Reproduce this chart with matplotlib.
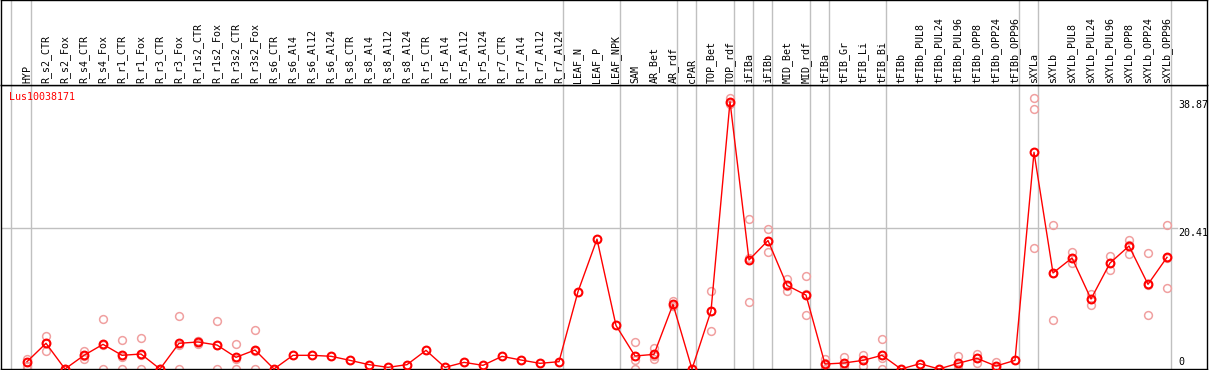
import numpy as np
import matplotlib
matplotlib.use("Agg")
import matplotlib.pyplot as plt
import matplotlib.transforms as mtransforms

# ------------------ DADOS ------------------
gene_id = "Lus10038171"

labels = ["HYP", "R_s2_CTR", "R_s2_Fox", "R_s4_CTR", "R_s4_Fox", "R_r1_CTR", "R_r1_Fox",
          "R_r3_CTR", "R_r3_Fox", "R_r1s2_CTR", "R_r1s2_Fox", "R_r3s2_CTR", "R_r3s2_Fox",
          "R_s6_CTR", "R_s6_Al4", "R_s6_Al12", "R_s6_Al24", "R_s8_CTR", "R_s8_Al4",
          "R_s8_Al12", "R_s8_Al24", "R_r5_CTR", "R_r5_Al4", "R_r5_Al12", "R_r5_Al24",
          "R_r7_CTR", "R_r7_Al4", "R_r7_Al12", "R_r7_Al24", "LEAF_N", "LEAF_P", "LEAF_NPK",
          "SAM", "AR_Bet", "AR_rdf", "cPAR", "TOP_Bet", "TOP_rdf", "iFIBa", "iFIBb",
          "MID_Bet", "MID_rdf", "tFIBa", "tFIB_Gr", "tFIB_Li", "tFIB_Bi", "tFIBb",
          "tFIBb_PUL8", "tFIBb_PUL24", "tFIBb_PUL96", "tFIBb_OPP8", "tFIBb_OPP24",
          "tFIBb_OPP96", "sXYLa", "sXYLb", "sXYLb_PUL8", "sXYLb_PUL24", "sXYLb_PUL96",
          "sXYLb_OPP8", "sXYLb_OPP24", "sXYLb_OPP96"]

# media das replicas
expr_mean = [1.06, 3.72, 0.0, 1.98, 3.57, 1.98, 2.17, 0.0, 3.72, 3.91, 3.47, 1.69, 2.75,
             0.0, 1.98, 1.98, 1.84, 1.25, 0.63, 0.24, 0.63, 2.70, 0.24, 0.96, 0.53,
             1.83, 1.30, 0.82, 1.06, 11.2, 18.8, 6.3,
             1.88, 2.12, 9.36, 0.0, 8.4, 38.7, 15.78, 18.6, 12.1, 10.7,
             0.72, 0.87, 1.25, 1.98, 0.0, 0.77, 0.0, 0.82, 1.54, 0.43, 1.25,
             31.37, 13.9, 16.07, 10.13, 15.34, 17.8, 12.26, 16.17]

nan = np.nan
# replicas individuais (nan = sem replica visivel)
rep_a = [1.4, 4.78, 0.0, 2.66, 7.19, 4.15, 4.44, 0.0, 7.63, 4.1, 6.95, 3.57, 5.6,
         nan, nan, nan, nan, nan, nan, nan, nan, nan, nan, nan, nan,
         nan, nan, nan, nan, nan, nan, nan,
         3.86, 3.04, 9.89, nan, 11.29, 39.3, 21.7, 20.27, 13.0, 13.46,
         1.4, 1.69, 2.0, 4.34, nan, nan, nan, 1.83, 2.17, 1.06, nan,
         39.2, 20.8, 16.89, 10.86, 16.3, 18.67, 16.8, 20.8]
rep_b = [0.4, 2.55, 0.0, 1.40, 0.0, 0.0, 0.0, 0.0, 0.0, 3.6, 0.0, 0.0, 0.0,
         nan, nan, nan, nan, nan, nan, nan, nan, nan, nan, nan, nan,
         nan, nan, nan, nan, nan, nan, nan,
         1.3, 1.4, 9.1, nan, 5.5, 38.4, 9.65, 17.0, 11.3, 7.82,
         0.0, 0.3, 0.43, 0.0, nan, nan, nan, 0.0, 0.82, 0.0, nan,
         37.7, 7.05, 15.3, 9.31, 14.4, 16.7, 7.82, 11.7]
rep_c = [0.0, 3.8, 0.0, 1.9, 3.52, 1.8, 2.07, 0.0, 3.53, 4.0, 3.46, 1.5, 2.65,
         nan, nan, nan, nan, nan, nan, nan, nan, nan, nan, nan, nan,
         nan, nan, nan, nan, nan, nan, nan,
         0.0, 1.9, 9.1, nan, 8.4, 38.5, 16.0, 18.6, 12.0, 10.8,
         0.9, 0.6, 1.3, 1.6, nan, nan, nan, 0.63, 1.6, 0.2, nan,
         17.47, 13.85, 16.0, 10.2, 15.3, 18.0, 12.2, 16.0]

# ultimo indice de cada grupo de tecidos
group_ends = [0, 28, 31, 34, 35, 37, 38, 39, 41, 42, 45, 52, 53, 60]
y_ticks = [0, 20.41, 38.87]

# ------------------ FIGURA ------------------
W, H = 1209, 370
fig = plt.figure(figsize=(W / 100, H / 100), dpi=100)

x = np.arange(len(labels))
xmin, xmax = (1 - 27) / 19, (1207 - 27) / 19
ymax = 284 / 6.908
gray = "#c0c0c0"
font = "DejaVu Sans Mono"

ax = fig.add_axes([1 / W, 1 / H, 1206 / W, 284 / H])
ax_lab = fig.add_axes([1 / W, 1 - 85 / H, 1206 / W, 85 / H])

for a in (ax, ax_lab):
    a.set_xlim(xmin, xmax)
    a.set_xticks([])
    a.set_yticks([])
    for s in a.spines.values():
        s.set_color("black")
        s.set_linewidth(1.0)
    a.axvline(-0.84, color=gray, lw=1.0, zorder=0)
    for g in group_ends:
        a.axvline(g + 0.2, color=gray, lw=1.0, zorder=0)

ax.set_ylim(0, ymax)
ax.axhline(y_ticks[1], xmin=0, xmax=(1177 - 1) / 1206, color=gray, lw=1.0, zorder=0)

# replicas
for rep in (rep_a, rep_b, rep_c):
    ax.plot(x, rep, linestyle="none", marker="o", ms=5.6, mfc="none",
            mec="#f0a0a0", mew=1.1, zorder=2, clip_on=False)

# media
ax.plot(x, expr_mean, color="#ff0000", lw=1.0, marker="o", ms=5.6, mfc="none",
        mec="#ff0000", mew=1.5, zorder=3, clip_on=False)

# rotulos verticais
trans = mtransforms.blended_transform_factory(ax_lab.transData, ax_lab.transAxes)
for i, lab in enumerate(labels):
    ax_lab.text(i, 2 / 85, lab, rotation=90, ha="center", va="bottom",
                fontsize=7.2, family=font, transform=trans)

# escala no lado direito
tx = (1178 - 27) / 19
ax.text(tx, y_ticks[2], f"{y_ticks[2]:.2f}", ha="left", va="top", fontsize=7.2, family=font)
ax.text(tx, y_ticks[1], f"{y_ticks[1]:.2f}", ha="left", va="top", fontsize=7.2, family=font)
ax.text(tx, 0.3, "0", ha="left", va="bottom", fontsize=7.2, family=font)

fig.text(9 / W, 1 - 92 / H, gene_id, color="#ff0000", ha="left", va="top",
         fontsize=7.2, family=font)

fig.savefig("out.png", dpi=100)
